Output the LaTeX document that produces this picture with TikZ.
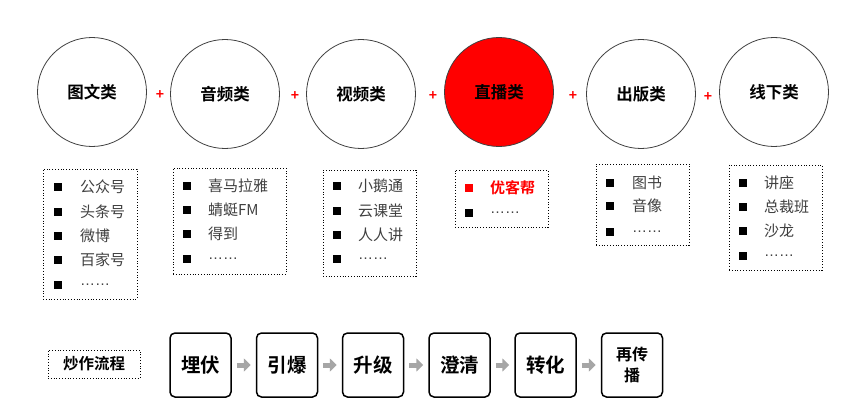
\documentclass[tikz,border=0pt]{standalone}
\usepackage{fontspec}
\setmainfont{Noto Sans CJK SC}[BoldFont={* Bold}]
\newfontfamily\dotfont{Liberation Sans}
\usetikzlibrary{arrows.meta}
\definecolor{txtgray}{HTML}{404040}
\definecolor{arrgray}{HTML}{A6A6A6}
\tikzset{
  cat/.style={circle, draw=black!75, line width=0.8pt, minimum size=109pt, inner sep=0pt, font=\fontsize{16.5}{18}\selectfont\bfseries},
  plus/.style={text=red, font=\fontsize{14}{14}\selectfont\bfseries, inner sep=0pt},
  listbox/.style={draw=black, dotted, line width=0.8pt, inner sep=0pt},
  bul/.style={fill=black, minimum size=8pt, inner sep=0pt},
  item/.style={anchor=west, inner sep=0pt, text=txtgray, font=\fontsize{15}{16}\selectfont},
  flow/.style={draw=black, line width=1.5pt, rounded corners=5pt, minimum width=61pt, minimum height=64pt, inner sep=1pt, align=center, font=\fontsize{19.5}{20}\selectfont\bfseries},
  flowarrow/.style={draw=arrgray, line width=5pt, -{Triangle[length=7pt,width=13pt]}, shorten <=5pt, shorten >=5pt},
  lbl/.style={draw=black, dotted, line width=0.8pt, minimum width=92pt, minimum height=28pt, inner sep=0pt, font=\fontsize{15.5}{16}\selectfont\bfseries}
}
\begin{document}
\begin{tikzpicture}[x=1pt,y=-1pt]
\useasboundingbox[fill=white] (0,0) rectangle (860,420);
% circles
\node[cat] (c1) at (92,92) {图文类};
\node[cat] (c2) at (225,94) {音频类};
\node[cat] (c3) at (361,94) {视频类};
\node[cat, fill=red] (c4) at (499,92) {直播类};
\node[cat] (c5) at (641,94) {出版类};
\node[cat] (c6) at (774,92) {线下类};
% plus signs
\node[plus] (p1) at (160,95) {+};
\node[plus] (p2) at (295,96) {+};
\node[plus] (p3) at (433,96) {+};
\node[plus] (p4) at (573,96) {+};
\node[plus] (p5) at (708,97) {+};
% list boxes
\node[listbox, minimum width=94pt, minimum height=130pt] (b1) at (90,234) {};
\node[listbox, minimum width=113pt, minimum height=106pt] (b2) at (229.5,221) {};
\node[listbox, minimum width=93pt, minimum height=106pt] (b3) at (369.5,223) {};
\node[listbox, minimum width=93pt, minimum height=57pt] (b4) at (501.5,198.5) {};
\node[listbox, minimum width=93pt, minimum height=81pt] (b5) at (642.5,204.5) {};
\node[listbox, minimum width=93pt, minimum height=105pt] (b6) at (775.5,217.5) {};
% box 1
\foreach \y/\t [count=\i] in {187/公众号,212/头条号,236/微博,260/百家号}{
  \node[bul] (a1b\i) at (58,\y) {};
  \node[item] (a1t\i) at (80,\y) {\t};
}
\node[bul] (a1b5) at (58,285) {};
\node[item] (a1t5) at (80,285) {\dotfont ……};
% box 2
\foreach \y/\t [count=\i] in {186/喜马拉雅,210/蜻蜓FM,234/得到}{
  \node[bul] (a2b\i) at (187,\y) {};
  \node[item] (a2t\i) at (208,\y) {\t};
}
\node[bul] (a2b4) at (187,259) {};
\node[item] (a2t4) at (208,259) {\dotfont ……};
% box 3
\foreach \y/\t [count=\i] in {186/小鹅通,211/云课堂,235/人人讲}{
  \node[bul] (a3b\i) at (337,\y) {};
  \node[item] (a3t\i) at (358,\y) {\t};
}
\node[bul] (a3b4) at (337,259) {};
\node[item] (a3t4) at (358,259) {\dotfont ……};
% box 4
\node[bul, fill=red] (a4b1) at (469,188) {};
\node[item, text=red, font=\fontsize{15}{16}\selectfont\bfseries] (a4t1) at (490,188) {优客帮};
\node[bul] (a4b2) at (469,213) {};
\node[item] (a4t2) at (490,213) {\dotfont ……};
% box 5
\foreach \y/\t [count=\i] in {183/图书,206/音像}{
  \node[bul] (a5b\i) at (610,\y) {};
  \node[item] (a5t\i) at (632,\y) {\t};
}
\node[bul] (a5b3) at (610,232) {};
\node[item] (a5t3) at (632,232) {\dotfont ……};
% box 6
\foreach \y/\t [count=\i] in {183/讲座,207/总裁班,231/沙龙}{
  \node[bul] (a6b\i) at (743,\y) {};
  \node[item] (a6t\i) at (764,\y) {\t};
}
\node[bul] (a6b4) at (743,256) {};
\node[item] (a6t4) at (764,256) {\dotfont ……};
% flow
\node[lbl] (lab) at (94,364) {炒作流程};
\node[flow] (f1) at (200.5,365) {埋伏};
\node[flow] (f2) at (287,365) {引爆};
\node[flow] (f3) at (373,365) {升级};
\node[flow] (f4) at (459.5,365) {澄清};
\node[flow] (f5) at (545.5,365) {转化};
\node[flow, font=\fontsize{16}{21}\selectfont\bfseries] (f6) at (632,365) {再传\\播};
\draw[flowarrow] (f1.east) -- (f2.west);
\draw[flowarrow] (f2.east) -- (f3.west);
\draw[flowarrow] (f3.east) -- (f4.west);
\draw[flowarrow] (f4.east) -- (f5.west);
\draw[flowarrow] (f5.east) -- (f6.west);
\end{tikzpicture}
\end{document}
